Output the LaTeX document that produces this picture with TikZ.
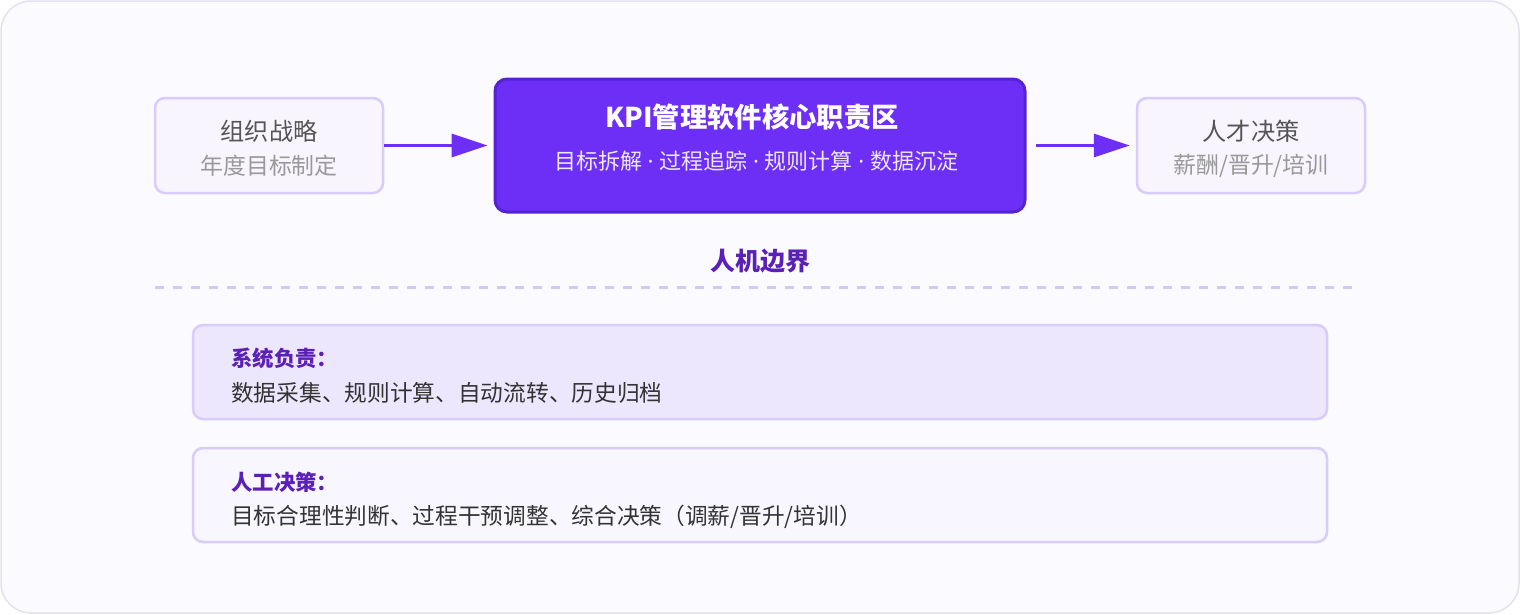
\documentclass[tikz,border=0pt]{standalone}
\usepackage{fontspec}
\setmainfont{Noto Sans CJK SC}
\newfontfamily\latinfont{Noto Sans}
\usetikzlibrary{arrows.meta}
\definecolor{bgfill}{HTML}{FBFAFF}
\definecolor{bgline}{HTML}{E3E0F0}
\definecolor{sbfill}{HTML}{F8F5FF}
\definecolor{sbline}{HTML}{D8CCFA}
\definecolor{tgray}{HTML}{555555}
\definecolor{tlight}{HTML}{999999}
\definecolor{mainfill}{HTML}{6D2EF5}
\definecolor{mainline}{HTML}{5424D0}
\definecolor{lblpurple}{HTML}{5B21B6}
\definecolor{dashcol}{HTML}{D4C8F8}
\definecolor{sysfill}{HTML}{EDE7FD}
\definecolor{humfill}{HTML}{F8F6FF}
\definecolor{body}{HTML}{333333}
\definecolor{subwhite}{HTML}{EEE8FF}
\newcommand{\sepdot}{{\latinfont\ ·\ }}
\tikzset{
  sidebox/.style={draw=sbline, line width=2.5pt, fill=sbfill, rounded corners=10pt, minimum width=228pt, minimum height=95pt, inner sep=0pt},
  mainbox/.style={draw=mainline, line width=3pt, fill=mainfill, rounded corners=12pt, minimum width=530pt, minimum height=133pt, inner sep=0pt},
  wide/.style={draw=sbline, line width=2.5pt, rounded corners=10pt, minimum width=1134pt, minimum height=94pt, inner sep=0pt},
  flow/.style={draw=mainfill, line width=3pt, -{Triangle[length=36pt,width=23pt]}},
  big/.style={font=\fontsize{24.2pt}{28pt}\selectfont},
  small/.style={font=\fontsize{22.9pt}{27pt}\selectfont},
  bodytxt/.style={font=\fontsize{22.7pt}{27pt}\selectfont, text=body, anchor=west, inner sep=0pt},
  headtxt/.style={font=\fontsize{21.4pt}{25pt}\selectfont\bfseries, text=lblpurple, anchor=west, inner sep=0pt},
}
\begin{document}
\begin{tikzpicture}[x=1pt,y=-1pt]
\useasboundingbox (0,0) rectangle (1520,614);
\draw[draw=bgline, fill=bgfill, line width=1.5pt, rounded corners=30pt] (1,1) rectangle (1519,613);

\node[sidebox] (left) at (269,145.5) {};
\node[big, text=tgray] (lefta) at (269,131) {组织战略};
\node[small, text=tlight] (leftb) at (269,166) {年度目标制定};

\node[mainbox] (main) at (760,145.5) {};
\node[font=\fontsize{27.3pt}{31pt}\selectfont\bfseries, text=white] (maina) at (752,117) {KPI管理软件核心职责区};
\node[font=\fontsize{22pt}{26pt}\selectfont, text=subwhite] (mainb) at (756,161) {目标拆解\sepdot 过程追踪\sepdot 规则计算\sepdot 数据沉淀};

\node[sidebox] (right) at (1251,145.5) {};
\node[big, text=tgray] (righta) at (1251,131) {人才决策};
\node[small, text=tlight] (rightb) at (1251,166) {薪酬/晋升/培训};

\draw[flow, shorten >=6pt] (left.east) -- (main.west);
\draw[flow, shorten <=9pt, shorten >=6pt] (main.east) -- (right.west);

\node[font=\fontsize{25pt}{29pt}\selectfont\bfseries, text=lblpurple] (boundary) at (760,261) {人机边界};
\coordinate (dl) at (155,287);
\coordinate (dr) at (1355,287);
\draw[dashcol, line width=3pt, dash pattern=on 9pt off 9pt] (dl) -- (dr);

\node[wide, fill=sysfill] (sys) at (760,372) {};
\node[headtxt] (sysh) at (231,358) {系统负责：};
\node[bodytxt] (sysb) at (231,393) {数据采集、规则计算、自动流转、历史归档};

\node[wide, fill=humfill] (hum) at (760,495) {};
\node[headtxt] (humh) at (231,482) {人工决策：};
\node[bodytxt] (humb) at (231,517) {目标合理性判断、过程干预调整、综合决策（调薪/晋升/培训）};
\end{tikzpicture}
\end{document}
